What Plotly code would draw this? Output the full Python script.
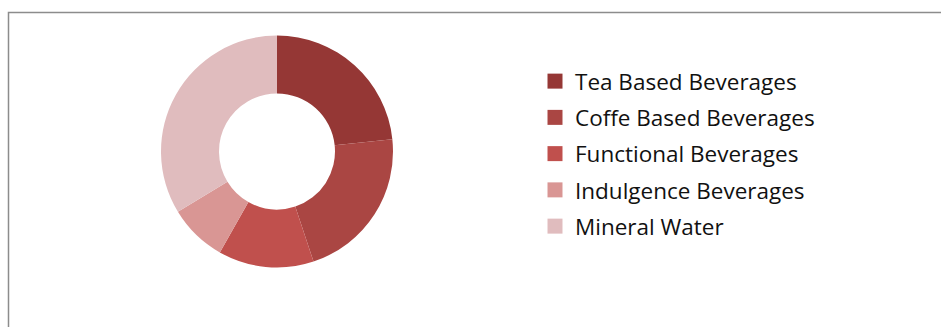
import plotly.graph_objects as go

W, H = 941, 327

categories = ["Tea Based Beverages", "Coffe Based Beverages", "Functional Beverages",
              "Indulgence Beverages", "Mineral Water"]
shares = [23.3, 21.6, 13.3, 8.1, 33.7]
colors = ["#953735", "#AA4643", "#C0504D", "#D99694", "#E0BCBE"]

fig = go.Figure()

cx, cy, r = 277, 151.5, 116
fig.add_trace(go.Pie(
    labels=categories, values=shares, hole=0.5, sort=False, direction="clockwise",
    rotation=0, textinfo="none", hoverinfo="label+percent", showlegend=False,
    marker=dict(colors=colors, line=dict(width=0)),
    domain=dict(x=[(cx - r) / W, (cx + r) / W], y=[(H - cy - r) / H, (H - cy + r) / H]),
))

# legend entries (square swatches)
for i, (name, col) in enumerate(zip(categories, colors)):
    fig.add_trace(go.Scatter(
        x=[None], y=[None], mode="markers", name=name, legendgroup=f"g{i}",
        marker=dict(symbol="square", size=15, color=col),
        showlegend=True, hoverinfo="skip",
    ))

fig.update_layout(
    width=W, height=H, margin=dict(l=0, r=0, t=0, b=0),
    paper_bgcolor="white", plot_bgcolor="white",
    xaxis=dict(visible=False), yaxis=dict(visible=False),
    legend=dict(x=535 / W, xanchor="left", y=(H - 60) / H, yanchor="top",
                font=dict(family="Open Sans", size=22.5, color="#111111"),
                tracegroupgap=4, traceorder="grouped", itemsizing="trace",
                bgcolor="rgba(0,0,0,0)"),
    shapes=[dict(type="rect", xref="paper", yref="paper",
                 x0=8.5 / W, x1=1.2, y0=-0.2, y1=(H - 12.5) / H,
                 line=dict(color="#8c8c8c", width=1.5), fillcolor="rgba(0,0,0,0)")],
)

fig.write_html("out.html")
